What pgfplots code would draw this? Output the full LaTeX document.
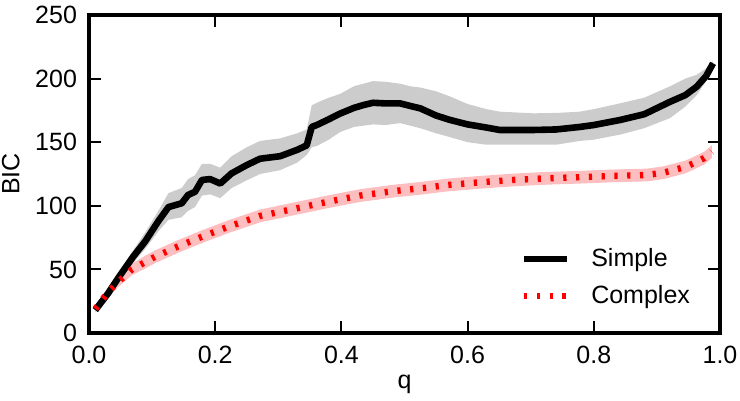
\documentclass[border=0pt]{standalone}
\usepackage{pgfplots}
\pgfplotsset{compat=1.18}
\usepackage{pgfplotstable}
\usepgfplotslibrary{fillbetween}
\usepackage{fontspec}
\setmainfont{Liberation Sans}
\definecolor{bandgray}{RGB}{204,204,204}
\definecolor{bandpink}{RGB}{252,190,190}

\pgfplotstableread{
x y lo hi
0.010 18 16 20
0.030 31 28 34
0.046 43 39 47
0.070 60 55 65
0.089 72 66 79
0.110 88 80 96
0.126 99 89 110
0.147 102 91 114
0.157 108.5 96 121
0.168 111 99 124
0.179 120.3 108 133
0.192 121 109 133
0.208 117.5 106 130
0.226 125.5 114 139
0.250 132 120 146
0.271 137 125 151
0.303 139 128 153
0.330 144 134 157
0.345 147.5 140 160
0.353 162 146 179
0.361 163.5 147 181
0.380 168 152 185
0.398 172.5 158 188
0.420 177 162 194
0.435 179.2 163 196
0.450 181 164 198
0.470 180.5 163.5 197.5
0.493 180.5 165 196
0.509 178.5 163 194
0.525 176.6 161 193
0.550 171 157 190
0.572 167.5 154 186
0.600 164 150 180
0.630 161.5 148 176
0.651 159.6 148 174
0.704 159.6 148 172.7
0.740 160 148 173
0.778 162 151 174
0.800 163.5 152 176
0.842 167.5 156 180.6
0.880 172 161 185
0.921 181.8 169 194
0.945 187 178 200
0.963 193.6 187 203
0.978 202 198 208
0.989 212 210 214
}\simpletab

\pgfplotstableread{
x y lo hi
0.010 19 17 21
0.030 32 29 35
0.046 40 36 44
0.068 50 45.5 54.5
0.090 56 51 61
0.105 60 55 65
0.141 68 63 73
0.179 75.7 70.7 80.7
0.221 83.6 78.6 88.6
0.271 92 87 97
0.324 97.5 92.5 102.5
0.377 103 98 108
0.429 108 103 113
0.482 111.5 106.5 116.5
0.530 114 109 119
0.567 116.3 111.3 121.3
0.620 118.5 113.5 123.5
0.672 120.3 115.3 125.3
0.720 121.5 116.5 126.5
0.778 122.5 117.5 127.5
0.830 123.5 118.5 128.5
0.884 124.2 119.2 129.2
0.910 126 121 131
0.926 128 123 133
0.945 130.5 125.5 135.5
0.958 133.4 128.4 138.4
0.975 137.5 132.5 142.5
0.987 142.5 137.5 147.5
}\complextab

\begin{document}
\begin{tikzpicture}
\begin{axis}[
  scale only axis,
  width=315.5pt, height=159pt,
  xmin=0, xmax=1, ymin=0, ymax=250,
  xtick={0,0.2,0.4,0.6,0.8,1.0},
  ytick={0,50,100,150,200,250},
  xticklabel style={/pgf/number format/fixed,/pgf/number format/fixed zerofill,/pgf/number format/precision=1, yshift=-3pt},
  yticklabel style={xshift=-2.5pt},
  /pgf/number format/assume math mode=true,
  font=\fontsize{12.5}{14}\selectfont,
  tick label style={font=\fontsize{12.5}{14}\selectfont},
  axis line style={line width=1.6pt},
  major tick length=6pt,
  tick style={line width=1pt, black},
  tick align=inside,
  xlabel={q}, ylabel={BIC},
  xlabel style={at={(axis description cs:0.5,-0.173)}, anchor=base},
  ylabel style={at={(axis description cs:-0.124,0.5)}, anchor=center},
  legend style={draw=none, fill=none, font=\fontsize{12.5}{14}\selectfont,
    at={(axis description cs:0.674,0.1745)}, anchor=west,
    row sep=4pt, nodes={inner sep=2pt}},
  legend cell align=left,
  legend image code/.code={\draw[#1] (0pt,0pt) -- (21.5pt,0pt); \path (30pt,0pt);},
]
\addplot[name path=sup, draw=none, forget plot] table[x=x,y=hi]{\simpletab};
\addplot[name path=slo, draw=none, forget plot] table[x=x,y=lo]{\simpletab};
\addplot[bandgray, forget plot] fill between[of=sup and slo];
\addplot[name path=cup, draw=none, forget plot] table[x=x,y=hi]{\complextab};
\addplot[name path=clo, draw=none, forget plot] table[x=x,y=lo]{\complextab};
\addplot[bandpink, forget plot] fill between[of=cup and clo];
\addplot[black, line width=3.3pt, line join=round] table[x=x,y=y]{\simpletab};
\addlegendentry{Simple}
\addplot[red, line width=3.2pt, dash pattern=on 1.6pt off 4.8pt] table[x=x,y=y]{\complextab};
\addlegendentry{Complex}
\end{axis}
\pgfresetboundingbox
\path ([shift={(-44.5pt,-34pt)}]current axis.south west) rectangle ([shift={(10pt,7.5pt)}]current axis.north east);
\end{tikzpicture}
\end{document}
